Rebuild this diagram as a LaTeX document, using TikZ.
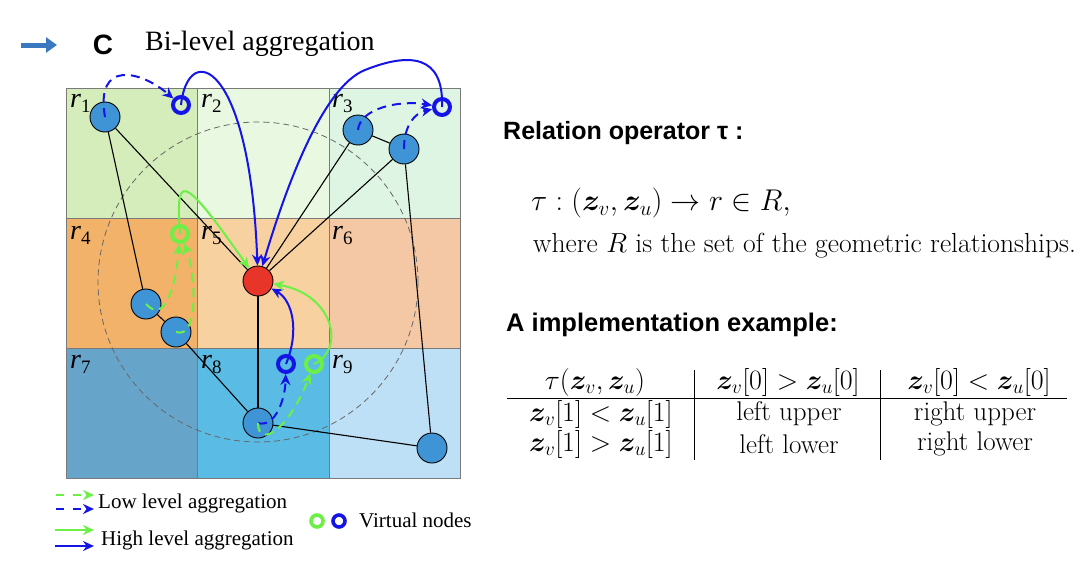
\RequirePackage{fix-cm}
\documentclass[tikz,border=0pt]{standalone}
\usepackage{amsmath,bm}
\usepackage{fontspec}
\newfontfamily\timesf{Liberation Serif}
\newfontfamily\arialf{Liberation Sans}
\usetikzlibrary{arrows.meta}
\definecolor{nodeblue}{HTML}{3F94D6}
\definecolor{nodered}{HTML}{E8352A}
\definecolor{arrblue}{HTML}{1414E6}
\definecolor{arrgreen}{HTML}{6CF046}
\definecolor{gridc}{HTML}{7A7A7A}
\definecolor{headarrow}{HTML}{3A78C0}
\definecolor{cA}{HTML}{D5EDBA}
\definecolor{cB}{HTML}{E9F8E0}
\definecolor{cC}{HTML}{DFF5E3}
\definecolor{cD}{HTML}{F2B26A}
\definecolor{cE}{HTML}{F8D1A1}
\definecolor{cF}{HTML}{F5C8A5}
\definecolor{cG}{HTML}{66A5C9}
\definecolor{cH}{HTML}{5ABCE4}
\definecolor{cI}{HTML}{BDE0F6}
\newcommand{\rlabel}[1]{\textit{r}\raisebox{-5pt}{\fontsize{19}{19}\selectfont #1}}
\begin{document}
\begin{tikzpicture}[x=1pt,y=-1pt,
  bnode/.style={circle,draw=black,line width=0.9pt,fill=nodeblue,minimum size=30pt,inner sep=0pt},
  rnode/.style={bnode,fill=nodered},
  vb/.style={circle,draw=arrblue,line width=4pt,minimum size=16pt,inner sep=0pt},
  vg/.style={vb,draw=arrgreen},
  lvb/.style={vb,minimum size=12pt,line width=3.6pt},
  lvg/.style={vg,minimum size=12pt,line width=3.6pt},
  link/.style={draw=black,line width=1.1pt},
  highb/.style={draw=arrblue,line width=2pt,-{Stealth[length=11pt,width=10pt]}},
  highg/.style={highb,draw=arrgreen},
  lowb/.style={highb,dash pattern=on 9pt off 6pt},
  lowg/.style={highg,dash pattern=on 9pt off 6pt},
  rlab/.style={anchor=west,inner sep=0pt,font=\timesf\fontsize{28}{28}\selectfont},
  cellbox/.style={draw=gridc,line width=0.8pt},
  txt/.style={anchor=west,inner sep=0pt},
  tab/.style={inner sep=0pt,font=\fontsize{27}{27}\selectfont},
  tabm/.style={inner sep=0pt,font=\fontsize{28}{28}\selectfont},
  legtxt/.style={anchor=west,inner sep=0pt,font=\timesf\fontsize{21}{21}\selectfont},
  headb/.style={anchor=west,inner sep=0pt,font=\arialf\bfseries\fontsize{25}{25}\selectfont},
]
\useasboundingbox (0,0) rectangle (1080,565);

% header
\coordinate (ha1) at (21,45);
\coordinate (ha2) at (57,45);
\draw[headarrow,line width=5pt,-{Triangle[length=11pt,width=15pt]}] (ha1) -- (ha2);
\node[inner sep=0pt,font=\arialf\bfseries\fontsize{28}{28}\selectfont] (cl) at (103,45) {C};
\node[txt,font=\timesf\fontsize{28}{28}\selectfont] (title) at (145,44) {Bi-level aggregation};

% grid cells
\filldraw[cellbox,fill=cA] (66,88) rectangle (197,218);
\filldraw[cellbox,fill=cB] (197,88) rectangle (329,218);
\filldraw[cellbox,fill=cC] (329,88) rectangle (460,218);
\filldraw[cellbox,fill=cD] (66,218) rectangle (197,348);
\filldraw[cellbox,fill=cE] (197,218) rectangle (329,348);
\filldraw[cellbox,fill=cF] (329,218) rectangle (460,348);
\filldraw[cellbox,fill=cG] (66,348) rectangle (197,478);
\filldraw[cellbox,fill=cH] (197,348) rectangle (329,478);
\filldraw[cellbox,fill=cI] (329,348) rectangle (460,478);

\node[rlab] (l1) at (70,103) {\rlabel{1}};
\node[rlab] (l2) at (201,103) {\rlabel{2}};
\node[rlab] (l3) at (332,103) {\rlabel{3}};
\node[rlab] (l4) at (70,235) {\rlabel{4}};
\node[rlab] (l5) at (201,235) {\rlabel{5}};
\node[rlab] (l6) at (332,235) {\rlabel{6}};
\node[rlab] (l7) at (70,364) {\rlabel{7}};
\node[rlab] (l8) at (201,364) {\rlabel{8}};
\node[rlab] (l9) at (332,364) {\rlabel{9}};

% dashed neighbourhood circle
\draw[gray!80!black,line width=0.8pt,dash pattern=on 6pt off 4pt] (258,282) circle[radius=160pt];

% nodes
\node[bnode] (n1) at (105,117) {};
\node[bnode] (n3a) at (358,130) {};
\node[bnode] (n3b) at (404,149) {};
\node[bnode] (n4a) at (146,304) {};
\node[bnode] (n4b) at (176,332) {};
\node[rnode] (red) at (258,281) {};
\node[bnode] (n8) at (258,423) {};
\node[bnode] (n9) at (432,448) {};

% black links
\draw[link] (n1) -- (red);
\draw[link] (n1) -- (n4a);
\draw[link] (n4a) -- (n4b);
\draw[link] (n4b) -- (n8);
\draw[link] (n3a) -- (red);
\draw[link] (n3b) -- (red);
\draw[link] (n3a) -- (n3b);
\draw[link] (n3b) -- (n9);
\draw[link] (red) -- (n8);
\draw[link] (n8) -- (n9);

% virtual nodes
\node[vb] (v1) at (181,105) {};
\node[vb] (v3) at (442,107) {};
\node[vg] (v4) at (180,234) {};
\node[vb] (v8) at (286,364) {};
\node[vg] (v9) at (314,364) {};

% low level (dashed) aggregation
\draw[lowb] (n1.center) .. controls (95,60) and (140,70) .. (v1);
\draw[lowb] (n3a.center) .. controls (360,108) and (400,100) .. (v3);
\draw[lowb] (n3b.center) .. controls (404,125) and (415,113) .. (v3);
\draw[lowg] (n4a.center) .. controls (165,325) and (176,285) .. (v4);
\draw[lowg] (n4b.center) .. controls (200,340) and (195,270) .. (v4);
\draw[lowb] (n8.center) .. controls (275,428) and (285,400) .. (v8);
\draw[lowg] (n8.center) .. controls (258,448) and (288,432) .. (v9);

% high level (solid) aggregation
\draw[highb] (v1.center) .. controls (188,40) and (250,60) .. (red);
\draw[highb] (v3.center) .. controls (444,55) and (410,52) .. (365,70)
   .. controls (322,87) and (285,190) .. (red);
\draw[highb] (v8.center) .. controls (300,330) and (292,300) .. (red);
\draw[highg] (v4.center) .. controls (176,175) and (180,170) .. (red);
\draw[highg] (v9.center) .. controls (345,350) and (335,295) .. (red);

% legend
\coordinate (lg1a) at (56,495); \coordinate (lg1b) at (94,495);
\coordinate (lg2a) at (56,509); \coordinate (lg2b) at (94,509);
\coordinate (lg3a) at (55,530); \coordinate (lg3b) at (94,530);
\coordinate (lg4a) at (55,546); \coordinate (lg4b) at (94,546);
\draw[lowg,dash pattern=on 8pt off 9pt] (lg1a) -- (lg1b);
\draw[lowb,dash pattern=on 8pt off 9pt] (lg2a) -- (lg2b);
\draw[highg] (lg3a) -- (lg3b);
\draw[highb] (lg4a) -- (lg4b);
\node[legtxt] (lowt) at (98,503) {Low level aggregation};
\node[legtxt] (hight) at (101,540) {High level aggregation};
\node[lvg] (lvg1) at (317,521) {};
\node[lvb] (lvb1) at (339,521) {};
\node[legtxt] (vnt) at (359,520) {Virtual nodes};

% right side text
\node[headb] (rel) at (503,133) {Relation operator τ :};
\node[txt,font=\fontsize{30}{30}\selectfont] (formula) at (531,203)
  {$\tau : (\bm{z}_v, \bm{z}_u) \rightarrow r \in R,$};
\node[txt,font=\fontsize{27.6}{27.6}\selectfont] (where) at (533,246)
  {where $R$ is the set of the geometric relationships.};
\node[headb,font=\arialf\bfseries\fontsize{25.5}{25.5}\selectfont] (impl) at (506,325) {A implementation example:};

% table
\node[tabm] (h1) at (595,382) {$\tau(\bm{z}_v, \bm{z}_u)$};
\node[tabm] (h2) at (788,382) {$\bm{z}_v[0] > \bm{z}_u[0]$};
\node[tabm] (h3) at (979,382) {$\bm{z}_v[0] < \bm{z}_u[0]$};
\node[tabm] (a1) at (601,414) {$\bm{z}_v[1] < \bm{z}_u[1]$};
\node[tab] (a2) at (789,414) {left upper};
\node[tab] (a3) at (975,414) {right upper};
\node[tabm] (b1) at (601,444) {$\bm{z}_v[1] > \bm{z}_u[1]$};
\node[tab] (b2) at (789,444) {left lower};
\node[tab] (b3) at (975,444) {right lower};
\coordinate (rule1) at (507,398); \coordinate (rule2) at (1067,398);
\coordinate (bar1a) at (694,370); \coordinate (bar1b) at (694,460);
\coordinate (bar2a) at (880,370); \coordinate (bar2b) at (880,460);
\draw[line width=0.9pt] (rule1) -- (rule2);
\draw[line width=0.9pt] (bar1a) -- (bar1b);
\draw[line width=0.9pt] (bar2a) -- (bar2b);
\end{tikzpicture}
\end{document}
